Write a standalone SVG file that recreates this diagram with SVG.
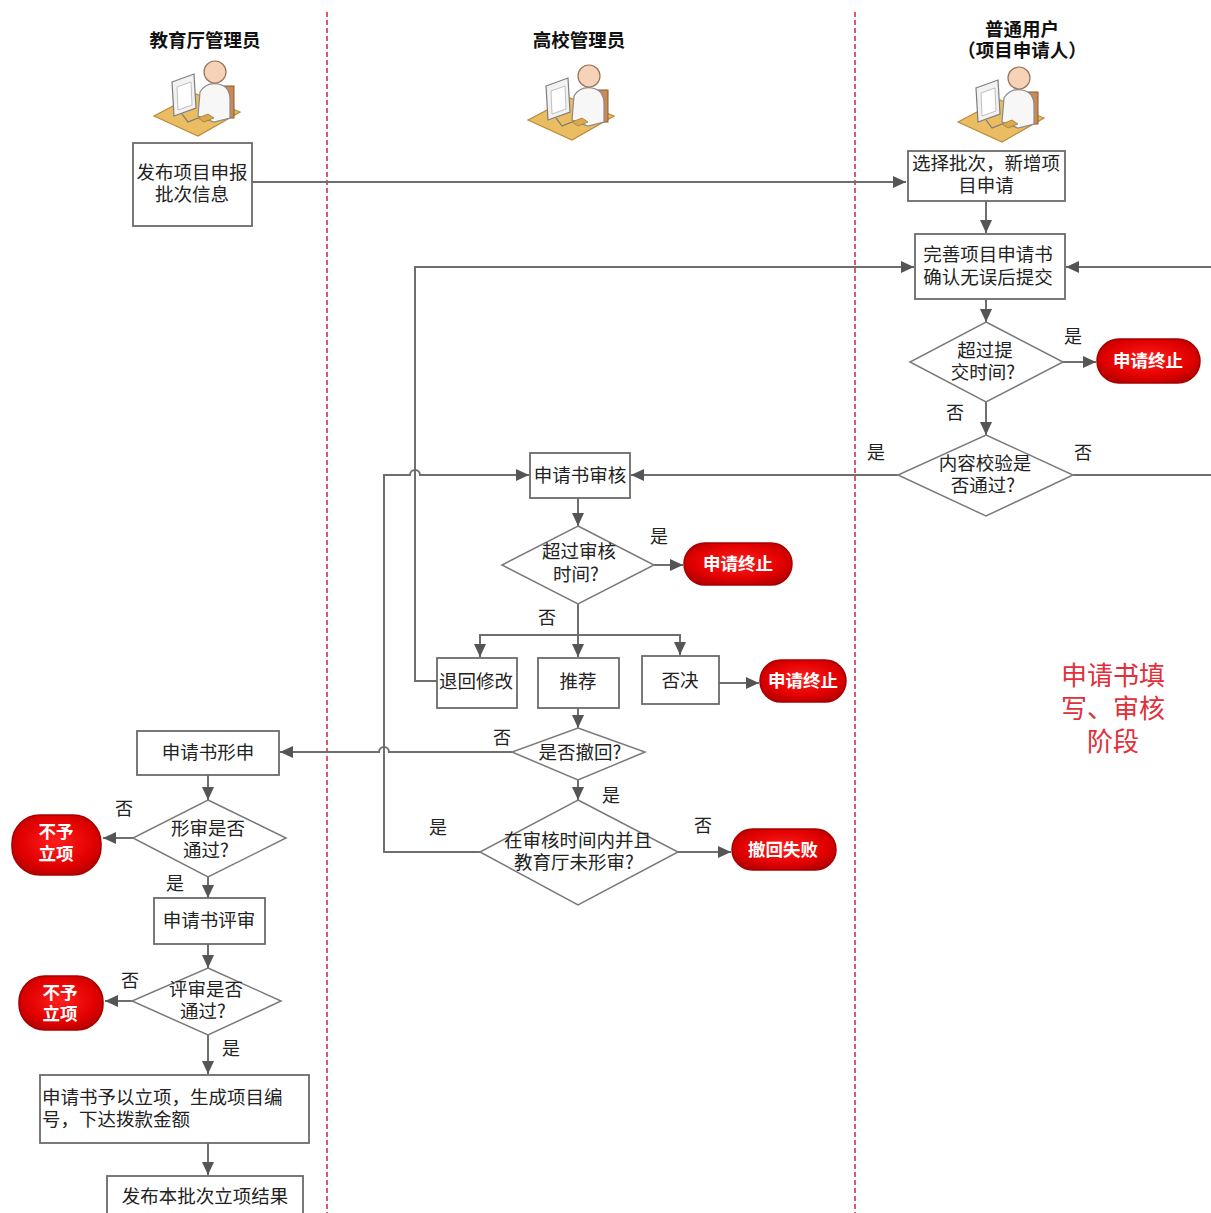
<svg xmlns="http://www.w3.org/2000/svg" xmlns:xlink="http://www.w3.org/1999/xlink" width="1211" height="1213" viewBox="0 0 1211 1213">
<defs>
<style>
.lane{stroke:#e0303a;stroke-width:1.6;stroke-dasharray:5 3;fill:none}
.hdr{font-family:"Noto Sans CJK SC","Liberation Sans",sans-serif;font-size:18.5px;font-weight:bold;fill:#111;text-anchor:middle}
.box{fill:#fff;stroke:#6b6b6b;stroke-width:1.8}
.dia{fill:#fff;stroke:#7a7a7a;stroke-width:1.5}
.t{font-family:"Noto Sans CJK SC","Liberation Sans",sans-serif;font-size:18.5px;fill:#222;text-anchor:middle}
.tl{font-family:"Noto Sans CJK SC","Liberation Sans",sans-serif;font-size:18.5px;fill:#222}
.lbl{font-family:"Noto Sans CJK SC","Liberation Sans",sans-serif;font-size:18px;fill:#222;text-anchor:middle}
.pill{fill:url(#red);stroke:#a80000;stroke-width:1.5}
.pt{font-family:"Noto Sans CJK SC","Liberation Sans",sans-serif;font-size:17.5px;font-weight:bold;fill:#fff;text-anchor:middle}
.ln{fill:none;stroke:#6e6e6e;stroke-width:2}
.ar{marker-end:url(#ah)}
.note{font-family:"Noto Sans CJK SC","Liberation Sans",sans-serif;font-size:26px;fill:#e0303a;text-anchor:middle}
</style>
<radialGradient id="red" cx="50%" cy="45%" r="60%">
<stop offset="0" stop-color="#ff1f1f"/>
<stop offset="0.7" stop-color="#e00000"/>
<stop offset="1" stop-color="#b50000"/>
</radialGradient>
<marker id="ah" markerUnits="userSpaceOnUse" markerWidth="14" markerHeight="12" refX="13" refY="6" orient="auto">
<path d="M0,0 L13,6 L0,12 z" fill="#555"/>
</marker>
<symbol id="user" viewBox="0 0 90 82" width="90" height="82">
<polygon points="2,60 44,38 88,56 46,80" fill="#ebbd63" stroke="#b88a3c" stroke-width="1.2"/>
<rect x="72" y="30" width="10" height="32" fill="#c98a55" stroke="#8a5a30" stroke-width="1"/>
<path d="M46,60 L48,36 Q54,26 66,28 Q78,30 78,44 L78,62 L62,66 Z" fill="#f7f7f7" stroke="#8a8a8a" stroke-width="1.2"/>
<circle cx="63" cy="16" r="11" fill="#f5d2b8" stroke="#9a7456" stroke-width="1.2"/>
<polygon points="20,26 42,18 44,52 22,60" fill="#f2f2f2" stroke="#7d7d7d" stroke-width="1.2"/>
<polygon points="25,31 39,26 40,49 26,54" fill="#fff" stroke="#b0b0b0" stroke-width="0.8"/>
<path d="M30,58 L36,66 L46,62" fill="none" stroke="#777" stroke-width="1.2"/>
<polygon points="46,62 56,58 62,62 52,66" fill="#d8a94f" stroke="#a07a30" stroke-width="0.8"/>
</symbol>
</defs>
<rect x="0" y="0" width="1211" height="1213" fill="#fff"/>

<g id="lanes">
<line class="lane" x1="327" y1="12" x2="327" y2="1213"/>
<line class="lane" x1="855" y1="12" x2="855" y2="1213"/>
</g>

<g id="headers">
<text class="hdr" x="205" y="47">教育厅管理员</text>
<text class="hdr" x="579" y="47">高校管理员</text>
<text class="hdr" x="1022" y="36">普通用户<tspan x="1022" dy="21">（项目申请人）</tspan></text>
<use xlink:href="#user" href="#user" x="152" y="56"/>
<use xlink:href="#user" href="#user" x="526" y="60"/>
<use xlink:href="#user" href="#user" x="956" y="62"/>
</g>

<g id="connectors">
<path class="ln ar" d="M252,182 H906"/>
<path class="ln ar" d="M986,201 V233"/>
<path class="ln ar" d="M986,299 V322"/>
<path class="ln ar" d="M1063,362 H1096"/>
<path class="ln ar" d="M986,402 V435"/>
<path class="ln ar" d="M1073,475 H1222 V267 H1066"/>
<path class="ln ar" d="M898,475 H631"/>
<path class="ln ar" d="M437,681 H415 V267 H914"/>
<path class="ln ar" d="M480,852 H384 V475 H410 A5,5 0 0 1 420,475 H529"/>
<path class="ln ar" d="M578,498 V526"/>
<path class="ln ar" d="M654,565 H683"/>
<path class="ln ar" d="M578,604 V657"/>
<path class="ln ar" d="M578,635 H480 V657"/>
<path class="ln ar" d="M578,635 H680 V655"/>
<path class="ln ar" d="M719,683 H759"/>
<path class="ln ar" d="M578,708 V728"/>
<path class="ln ar" d="M512,752 H389 A5,5 0 0 0 379,752 H280"/>
<path class="ln ar" d="M578,780 V800"/>
<path class="ln ar" d="M678,852 H731"/>
<path class="ln ar" d="M208,775 V800"/>
<path class="ln ar" d="M133,838 H103"/>
<path class="ln ar" d="M208,877 V898"/>
<path class="ln ar" d="M208,944 V968"/>
<path class="ln ar" d="M132,1001 H105"/>
<path class="ln ar" d="M208,1035 V1074"/>
<path class="ln ar" d="M208,1143 V1175"/>
</g>

<g id="labels">
<text class="lbl" x="1073" y="343">是</text>
<text class="lbl" x="955" y="419">否</text>
<text class="lbl" x="876" y="459">是</text>
<text class="lbl" x="1083" y="459">否</text>
<text class="lbl" x="659" y="543">是</text>
<text class="lbl" x="547" y="624">否</text>
<text class="lbl" x="502" y="744">否</text>
<text class="lbl" x="611" y="802">是</text>
<text class="lbl" x="703" y="832">否</text>
<text class="lbl" x="438" y="834">是</text>
<text class="lbl" x="124" y="815">否</text>
<text class="lbl" x="175" y="890">是</text>
<text class="lbl" x="130" y="987">否</text>
<text class="lbl" x="231" y="1055">是</text>
</g>

<g id="n1"><rect class="box" x="133" y="143" width="119" height="83"/><text class="t" x="192" y="179">发布项目申报<tspan x="192" dy="22">批次信息</tspan></text></g>
<g id="n2"><rect class="box" x="908" y="151" width="157" height="50"/><text class="t" x="986" y="170">选择批次，新增项<tspan x="986" dy="22">目申请</tspan></text></g>
<g id="n3"><rect class="box" x="915" y="234" width="150" height="65"/><text class="t" x="988" y="261">完善项目申请书<tspan x="988" dy="23">确认无误后提交</tspan></text></g>
<g id="n4"><polygon class="dia" points="986,322 1063,362 986,402 910,362"/><text class="t" x="985" y="357">超过提<tspan x="983" dy="22">交时间?</tspan></text></g>
<g id="n5"><rect class="pill" x="1097" y="339" width="103" height="44" rx="22"/><text class="pt" x="1148" y="367">申请终止</text></g>
<g id="n6"><polygon class="dia" points="986,435 1073,475 986,516 898,475"/><text class="t" x="985" y="470">内容校验是<tspan x="983" dy="22">否通过?</tspan></text></g>
<g id="n7"><rect class="box" x="530" y="453" width="100" height="45"/><text class="t" x="580" y="482">申请书审核</text></g>
<g id="n8"><polygon class="dia" points="578,526 654,565 578,604 502,565"/><text class="t" x="579" y="558">超过审核<tspan x="576" dy="23">时间?</tspan></text></g>
<g id="n9"><rect class="pill" x="684" y="543" width="108" height="42" rx="21"/><text class="pt" x="738" y="570">申请终止</text></g>
<g id="n10"><rect class="box" x="437" y="658" width="80" height="50"/><text class="t" x="476" y="688">退回修改</text></g>
<g id="n11"><rect class="box" x="538" y="658" width="81" height="50"/><text class="t" x="578" y="688">推荐</text></g>
<g id="n12"><rect class="box" x="642" y="656" width="77" height="48"/><text class="t" x="680" y="687">否决</text></g>
<g id="n13"><rect class="pill" x="760" y="660" width="86" height="42" rx="21"/><text class="pt" x="803" y="687">申请终止</text></g>
<g id="n14"><polygon class="dia" points="578,728 645,752 578,780 512,752"/><text class="t" x="580" y="759">是否撤回?</text></g>
<g id="n15"><polygon class="dia" points="578,800 678,852 578,905 480,852"/><text class="t" x="578" y="847">在审核时间内并且<tspan x="574" dy="22">教育厅未形审?</tspan></text></g>
<g id="n16"><rect class="pill" x="732" y="829" width="104" height="41" rx="20.5"/><text class="pt" x="783" y="856">撤回失败</text></g>
<g id="n17"><rect class="box" x="137" y="731" width="142" height="44"/><text class="t" x="208" y="759">申请书形申</text></g>
<g id="n18"><polygon class="dia" points="208,800 286,838 208,877 133,838"/><text class="t" x="208" y="835">形审是否<tspan x="206" dy="22">通过?</tspan></text></g>
<g id="n19"><rect class="pill" x="12" y="815" width="89" height="60" rx="28"/><text class="pt" x="56" y="838">不予<tspan x="56" dy="22">立项</tspan></text></g>
<g id="n20"><rect class="box" x="154" y="898" width="111" height="46"/><text class="t" x="209" y="927">申请书评审</text></g>
<g id="n21"><polygon class="dia" points="208,968 281,1001 208,1035 132,1001"/><text class="t" x="206" y="996">评审是否<tspan x="203" dy="22">通过?</tspan></text></g>
<g id="n22"><rect class="pill" x="19" y="976" width="84" height="54" rx="26"/><text class="pt" x="60" y="999">不予<tspan x="60" dy="21">立项</tspan></text></g>
<g id="n23"><rect class="box" x="40" y="1075" width="269" height="68"/><text class="tl" x="42" y="1104">申请书予以立项，生成项目编<tspan x="42" dy="22">号，下达拨款金额</tspan></text></g>
<g id="n24"><rect class="box" x="107" y="1176" width="196" height="50"/><text class="t" x="205" y="1203">发布本批次立项结果</text></g>

<g id="note">
<text class="note" x="1113" y="685">申请书填<tspan x="1113" dy="33">写、审核</tspan><tspan x="1113" dy="33">阶段</tspan></text>
</g>
</svg>
